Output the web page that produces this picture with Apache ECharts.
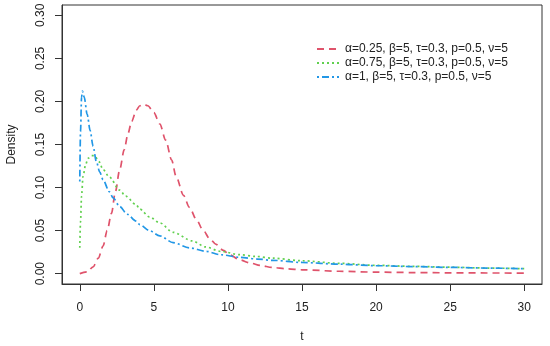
<!DOCTYPE html>
<html>
<head>
<meta charset="utf-8">
<script src="https://cdn.jsdelivr.net/npm/echarts@6/dist/echarts.min.js"></script>
<style>html,body{margin:0;padding:0;background:#fff}#c{width:550px;height:346px}</style>
</head>
<body>
<div id="c"></div>
<script>
// ---- data ----
var seriesNames = [
  'α=0.25, β=5, τ=0.3, p=0.5, ν=5',
  'α=0.75, β=5, τ=0.3, p=0.5, ν=5',
  'α=1, β=5, τ=0.3, p=0.5, ν=5'
];
var tRed = [0,0.5,0.9,1.25,1.57,1.85,2.14,2.4,2.7,3.0,3.26,3.5,3.82,4.05,4.3,4.6,5.0,5.4,5.8,6.2,6.5,7.0,7.4,7.9,8.3,8.8,9.2,9.7,10.1,10.8,11.5,12.2,13,14,15,17.5,20,22.5,25,27.5,30];
var densRed = [0,0.002,0.008,0.018,0.032,0.050,0.070,0.095,0.121,0.144,0.163,0.177,0.190,0.195,0.197,0.195,0.187,0.174,0.155,0.132,0.113,0.091,0.077,0.062,0.051,0.040,0.034,0.027,0.022,0.016,0.0124,0.0095,0.0072,0.0055,0.0045,0.0028,0.0018,0.0013,0.0010,0.0008,0.0007];
var tGreen = [0,0.05,0.12,0.22,0.4,0.56,0.8,1.0,1.3,1.57,2.0,2.7,3.1,3.8,4.05,4.7,5.4,6.3,7.6,8.5,9.5,10.8,11.9,13,15,17.5,20,22.5,25,27.5,30];
var densGreen = [0.030,0.060,0.090,0.113,0.127,0.134,0.137,0.137,0.130,0.121,0.112,0.097,0.090,0.080,0.075,0.066,0.059,0.048,0.038,0.031,0.026,0.022,0.020,0.018,0.015,0.012,0.0097,0.0085,0.0075,0.0065,0.0058];
var tBlue = [0,0.05,0.12,0.18,0.3,0.5,0.7,0.9,1.12,1.35,1.57,2.0,2.25,2.7,3.2,3.8,4.05,4.7,5.4,6.3,7.4,8.5,9.5,10.8,12,13,15,17.5,20,22.5,25,27.5,30];
var densBlue = [0.107,0.165,0.205,0.212,0.205,0.185,0.166,0.148,0.130,0.118,0.109,0.095,0.088,0.078,0.069,0.061,0.057,0.050,0.044,0.036,0.030,0.026,0.022,0.019,0.017,0.0155,0.013,0.011,0.0093,0.0082,0.0073,0.0065,0.0057];
var xTicks = [0,5,10,15,20,25,30];
var yTicks = [0,0.05,0.10,0.15,0.20,0.25,0.30];

function pairs(xs, ys){ return xs.map(function(x,i){ return [x, ys[i]]; }); }

var chart = echarts.init(document.getElementById('c'), null, {renderer:'canvas'});
var txt = '#222';
var font = 'Liberation Sans, Arial, sans-serif';
function mk(name, xs, ys, color, dash){
  return {
    name: name, type: 'line', data: pairs(xs, ys),
    showSymbol: false, symbol: 'none', smooth: 0.3, smoothMonotone: 'x',
    lineStyle: {color: color, width: 1.7, type: dash},
    itemStyle: {color: color},
    animation: false
  };
}
chart.setOption({
  animation: false,
  textStyle: {fontFamily: font},
  grid: {left: 62, right: 8, top: 5, bottom: 62, outerBoundsMode: 'none', containLabel: false,
    show: true, borderColor: '#333', borderWidth: 1, backgroundColor: 'transparent'},
  legend: {
    orient: 'vertical', left: 311, top: 38,
    itemWidth: 22, itemHeight: 12, itemGap: 2,
    itemStyle: {opacity: 0},
    textStyle: {fontSize: 12, color: txt, fontFamily: font, padding: [0,0,0,1]},
    data: seriesNames
  },
  xAxis: {
    type: 'value', min: -1.2, max: 31.2,
    name: 't', nameLocation: 'middle', nameGap: 47,
    nameTextStyle: {fontSize: 12, color: txt, fontFamily: font},
    axisLine: {show: true, onZero: false, lineStyle: {color: '#333'}},
    splitLine: {show: false},
    axisTick: {show: true, inside: false, length: 7, interval: 0, lineStyle: {color: '#333', width: 1}, customValues: xTicks},
    axisLabel: {fontSize: 12, color: txt, margin: 18, customValues: xTicks, fontFamily: font}
  },
  yAxis: {
    type: 'value', min: -0.012, max: 0.312,
    name: 'Density', nameLocation: 'middle', nameGap: 44, nameRotate: 90,
    nameTextStyle: {fontSize: 12, color: txt, fontFamily: font},
    axisLine: {show: true, onZero: false, lineStyle: {color: '#333'}},
    splitLine: {show: false},
    axisTick: {show: true, inside: false, length: 7, interval: 0, lineStyle: {color: '#333', width: 1}, customValues: yTicks},
    axisLabel: {fontSize: 12, color: txt, margin: 15, rotate: 90, customValues: yTicks, fontFamily: font,
      formatter: function(v){ return v.toFixed(2); }}
  },
  series: [
    mk(seriesNames[0], tRed, densRed, '#DF536B', [7,5]),
    mk(seriesNames[1], tGreen, densGreen, '#61D04F', [2,3]),
    mk(seriesNames[2], tBlue, densBlue, '#2297E6', [2,3,7,3])
  ]
});
</script>
</body>
</html>
